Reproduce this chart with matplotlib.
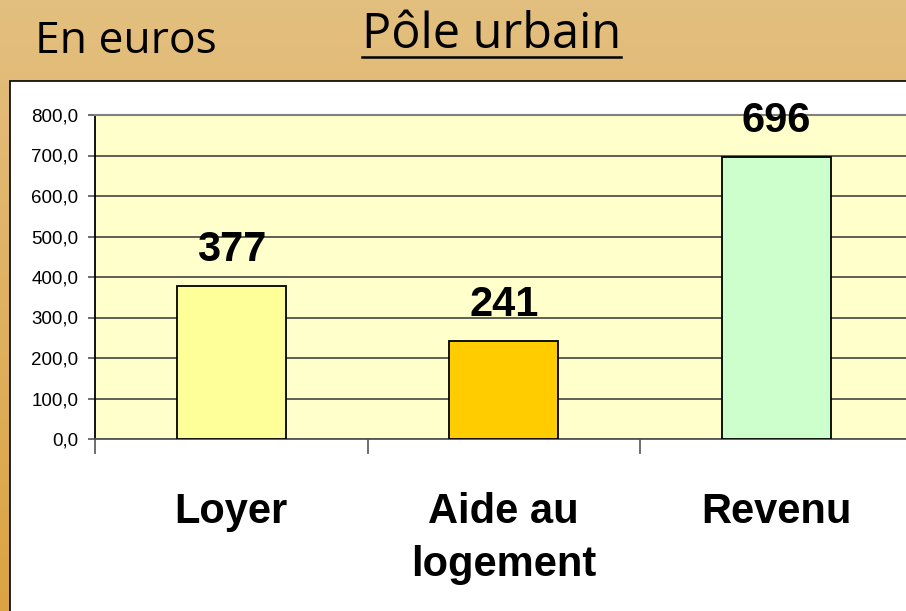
import matplotlib.pyplot as plt
import numpy as np
from matplotlib.patches import Rectangle
from matplotlib.lines import Line2D

categories = ["Loyer", "Aide au\nlogement", "Revenu"]
values = [377, 241, 696]
bar_colors = ["#FFFF99", "#FFCC00", "#CCFFCC"]
y_ticks = [0, 100, 200, 300, 400, 500, 600, 700, 800]
y_tick_labels = ["0,0", "100,0", "200,0", "300,0", "400,0",
                 "500,0", "600,0", "700,0", "800,0"]

W, H = 906, 611
fig = plt.figure(figsize=(W / 100, H / 100), dpi=100)

# parchment-like background: tan at top, more orange lower down
bg = fig.add_axes([0, 0, 1, 1], zorder=-10)
grad = np.linspace(0, 1, 256).reshape(-1, 1)
top = np.array([0.89, 0.75, 0.50])
bottom = np.array([0.86, 0.64, 0.26])
img = top + (bottom - top) * grad[:, :, None]
bg.imshow(img, aspect="auto", extent=[0, 1, 0, 1], origin="upper")
bg.set_xlim(0, 1)
bg.set_ylim(0, 1)
bg.axis("off")

# white chart panel
fig.patches.append(Rectangle((10 / W, -0.1), 1.0, 1 - 81 / H + 0.1,
                             transform=fig.transFigure, facecolor="white",
                             edgecolor="black", linewidth=1.2, zorder=-5))

fig.text(35 / W, 1 - 53 / H, "En euros", fontsize=32, family="Open Sans",
         va="baseline", ha="left")
title = fig.text(362 / W, 1 - 48 / H, "Pôle urbain", fontsize=35,
                 family="Open Sans", va="baseline", ha="left")

# plot area extends past the right edge of the figure
ax = fig.add_axes([95 / W, 1 - 439 / H, 817.5 / W, 324 / H])
ax.set_facecolor("#FFFFCC")
x = np.arange(len(categories))
bars = ax.bar(x, values, width=0.40, color=bar_colors, edgecolor="black",
              linewidth=1.3, zorder=3)

for b, v in zip(bars, values):
    ax.annotate(str(v), (b.get_x() + b.get_width() / 2, v),
                xytext=(0, 18), textcoords="offset points",
                ha="center", va="baseline", fontsize=30,
                fontweight="bold", family="Liberation Sans", zorder=4)

ax.set_xlim(-0.5, 2.5)
ax.set_ylim(0, 800)
ax.set_yticks(y_ticks, y_tick_labels)
ax.yaxis.grid(True, color="#333333", linewidth=1.1, zorder=1)
ax.tick_params(axis="y", length=5, width=1.2, color="#555555", pad=7,
               labelsize=13.5)
for t in ax.get_yticklabels():
    t.set_family("Liberation Sans")

ax.set_xticks(x, categories)
ax.set_xticks([-0.5, 0.5, 1.5, 2.5], minor=True)
ax.tick_params(axis="x", which="major", length=0, pad=38, labelsize=30)
ax.tick_params(axis="x", which="minor", length=11, width=1.2,
               color="#555555")
for t in ax.get_xticklabels():
    t.set_family("Liberation Sans")
    t.set_fontweight("bold")
    t.set_linespacing(1.42)
# the first category tick continues the black left axis line
ax.xaxis.get_minor_ticks()[0].tick1line.set_color("black")

ax.spines["left"].set_color("black")
ax.spines["left"].set_linewidth(1.3)
ax.spines["bottom"].set_color("#555555")
ax.spines["bottom"].set_linewidth(1.3)
ax.spines["top"].set_color("#808080")
ax.spines["top"].set_linewidth(1.5)
ax.spines["right"].set_visible(False)

# underline the title
fig.canvas.draw()
bb = title.get_window_extent()
y_line = 1 - 57 / H
fig.lines.append(Line2D([bb.x0 / W, bb.x1 / W], [y_line, y_line],
                        transform=fig.transFigure, color="black",
                        linewidth=1.8))

fig.savefig("out.png", dpi=100)
